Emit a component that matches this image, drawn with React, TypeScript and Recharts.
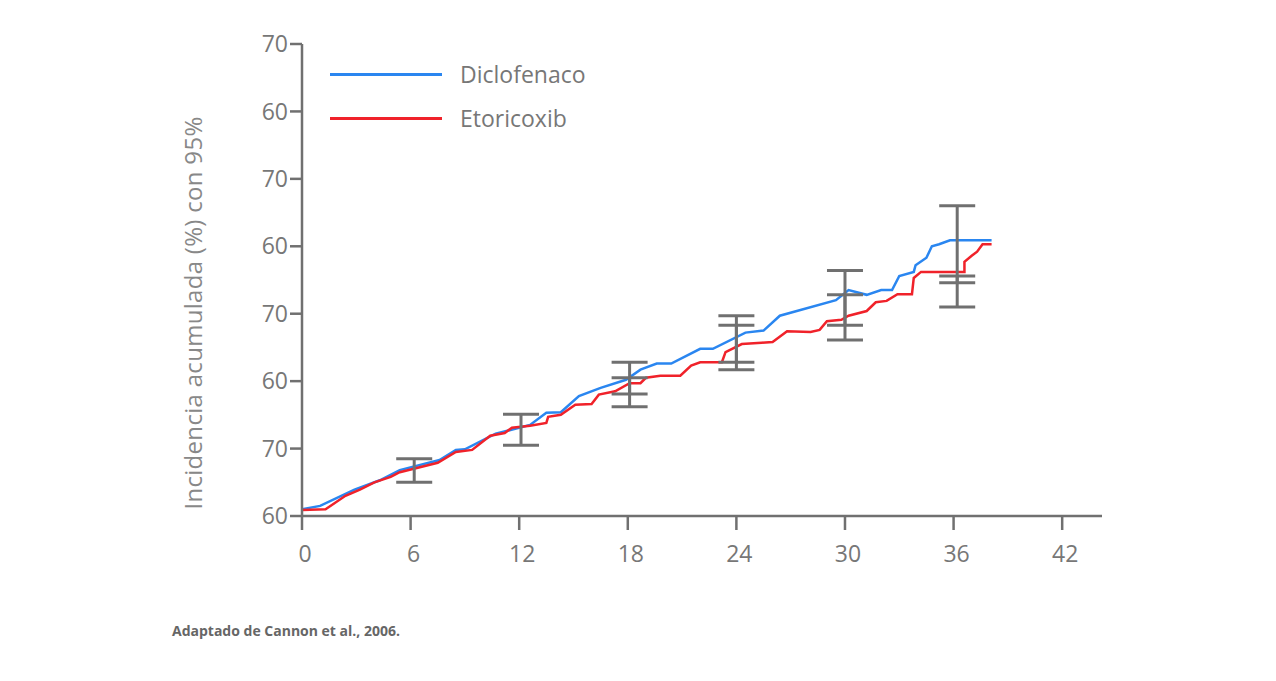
import React from "react";
import { ComposedChart, Line, Scatter, ErrorBar, XAxis, YAxis } from "recharts";

const yTickLabels = ["60", "70", "60", "70", "60", "70", "60", "70"];
const xTicks = [0, 6, 12, 18, 24, 30, 36, 42];

const diclofenaco = [
  [0, 0.1], [1.0, 0.15], [2.9, 0.39], [4.3, 0.53], [5.4, 0.68], [7.6, 0.83], [8.5, 0.98], [9.0, 0.99],
  [10.7, 1.22], [12.6, 1.35], [13.5, 1.53], [14.3, 1.54], [15.3, 1.78], [16.5, 1.9], [17.9, 2.02],
  [18.7, 2.17], [19.6, 2.26], [20.4, 2.26], [22.0, 2.48], [22.7, 2.48], [24.5, 2.72], [25.5, 2.75],
  [26.4, 2.97], [29.5, 3.2], [30.2, 3.35], [31.2, 3.28], [32.0, 3.35], [32.6, 3.35], [33.0, 3.56],
  [33.8, 3.62], [33.9, 3.72], [34.5, 3.83], [34.8, 4.0], [35.2, 4.03], [35.8, 4.09], [38.1, 4.09],
].map(([t, v]) => ({ t, v }));

const etoricoxib = [
  [0, 0.09], [1.3, 0.1], [2.4, 0.3], [3.2, 0.39], [4.0, 0.5], [4.9, 0.58], [5.4, 0.65], [7.5, 0.79],
  [8.5, 0.95], [9.4, 0.98], [10.4, 1.19], [11.2, 1.23], [11.6, 1.31], [12.6, 1.34], [13.5, 1.38],
  [13.6, 1.47], [14.3, 1.5], [15.1, 1.65], [16.0, 1.66], [16.4, 1.8], [17.3, 1.85], [18.1, 1.97],
  [18.7, 1.97], [19.0, 2.05], [19.8, 2.08], [20.9, 2.08], [21.5, 2.23], [22.0, 2.28], [23.2, 2.28],
  [23.4, 2.43], [24.3, 2.55], [25.4, 2.57], [26.0, 2.58], [26.8, 2.74], [28.1, 2.73], [28.6, 2.76],
  [29.0, 2.89], [29.8, 2.91], [30.2, 2.97], [31.2, 3.04], [31.7, 3.17], [32.3, 3.19], [32.9, 3.29],
  [33.7, 3.29], [33.8, 3.53], [34.2, 3.62], [36.6, 3.62], [36.6, 3.77], [37.0, 3.86], [37.3, 3.92],
  [37.6, 4.03], [38.1, 4.03],
].map(([t, v]) => ({ t, v }));

const ciTimes = [6.2, 12.1, 18.1, 24.0, 30.0, 36.2];
const ciOuterLow = [0.5, 1.05, 1.62, 2.17, 2.61, 3.1];
const ciOuterHigh = [0.85, 1.51, 2.28, 2.97, 3.64, 4.6];
const ciInnerTimes = [18.1, 24.0, 30.0, 36.2];
const ciInnerLow = [1.81, 2.28, 2.83, 3.46];
const ciInnerHigh = [2.05, 2.83, 3.28, 3.56];

const mk = (times: number[], lo: number[], hi: number[]) =>
  times.map((t, i) => ({ t, v: (lo[i] + hi[i]) / 2, e: [(hi[i] - lo[i]) / 2, (hi[i] - lo[i]) / 2] }));
const ciOuter = mk(ciTimes, ciOuterLow, ciOuterHigh);
const ciInner = mk(ciInnerTimes, ciInnerLow, ciInnerHigh);

const grey = "#707070";
const font = "'Open Sans', sans-serif";

export default function App() {
  return (
    <div style={{ position: "relative", width: 1260, height: 660, fontFamily: font }}>
      <ComposedChart width={1260} height={600} margin={{ top: 36, right: 166, bottom: 52, left: 234 }}>
        <XAxis
          dataKey="t" type="number" domain={[0, 44.2]} ticks={xTicks} allowDataOverflow
          stroke={grey} strokeWidth={2.5} tickSize={14} height={40}
          tick={{ fill: "#777", fontSize: 23, fontFamily: font, dy: 14, dx: 3 }} tickLine={{ stroke: grey, strokeWidth: 2.5 }}
        />
        <YAxis
          type="number" domain={[0, 7]} ticks={[0, 1, 2, 3, 4, 5, 6, 7]} width={60}
          tickFormatter={(v: number) => yTickLabels[v]}
          stroke={grey} strokeWidth={2.5} tickSize={12}
          tick={{ fill: "#777", fontSize: 23, fontFamily: font }} tickLine={{ stroke: grey, strokeWidth: 2.5 }}
        />
        <Line data={diclofenaco} dataKey="v" type="linear" stroke="#2a86f0" strokeWidth={2.5} dot={false} isAnimationActive={false} />
        <Line data={etoricoxib} dataKey="v" type="linear" stroke="#f0222a" strokeWidth={2.5} dot={false} isAnimationActive={false} />
        <Scatter data={ciOuter} dataKey="v" shape={() => null} isAnimationActive={false}>
          <ErrorBar dataKey="e" width={18} stroke={grey} strokeWidth={3} direction="y" />
        </Scatter>
        <Scatter data={ciInner} dataKey="v" shape={() => null} isAnimationActive={false}>
          <ErrorBar dataKey="e" width={18} stroke={grey} strokeWidth={3} direction="y" />
        </Scatter>
      </ComposedChart>
      <div style={{ position: "absolute", left: 184, top: 305, width: 0, height: 0 }}>
        <div style={{ position: "absolute", transform: "translate(-50%, -50%) rotate(-90deg)", whiteSpace: "nowrap", fontSize: 24, color: "#888", letterSpacing: 0.3 }}>
          Incidencia acumulada (%) con 95%
        </div>
      </div>
      <div style={{ position: "absolute", left: 322, top: 65, width: 112, height: 3, background: "#2a86f0" }} />
      <div style={{ position: "absolute", left: 452, top: 50, fontSize: 23, color: "#777" }}>Diclofenaco</div>
      <div style={{ position: "absolute", left: 322, top: 109, width: 112, height: 3, background: "#f0222a" }} />
      <div style={{ position: "absolute", left: 452, top: 94, fontSize: 23, color: "#777" }}>Etoricoxib</div>
      <div style={{ position: "absolute", left: 164, top: 613, fontSize: 14, fontWeight: 700, color: "#666" }}>
        Adaptado de Cannon et al., 2006.
      </div>
    </div>
  );
}
